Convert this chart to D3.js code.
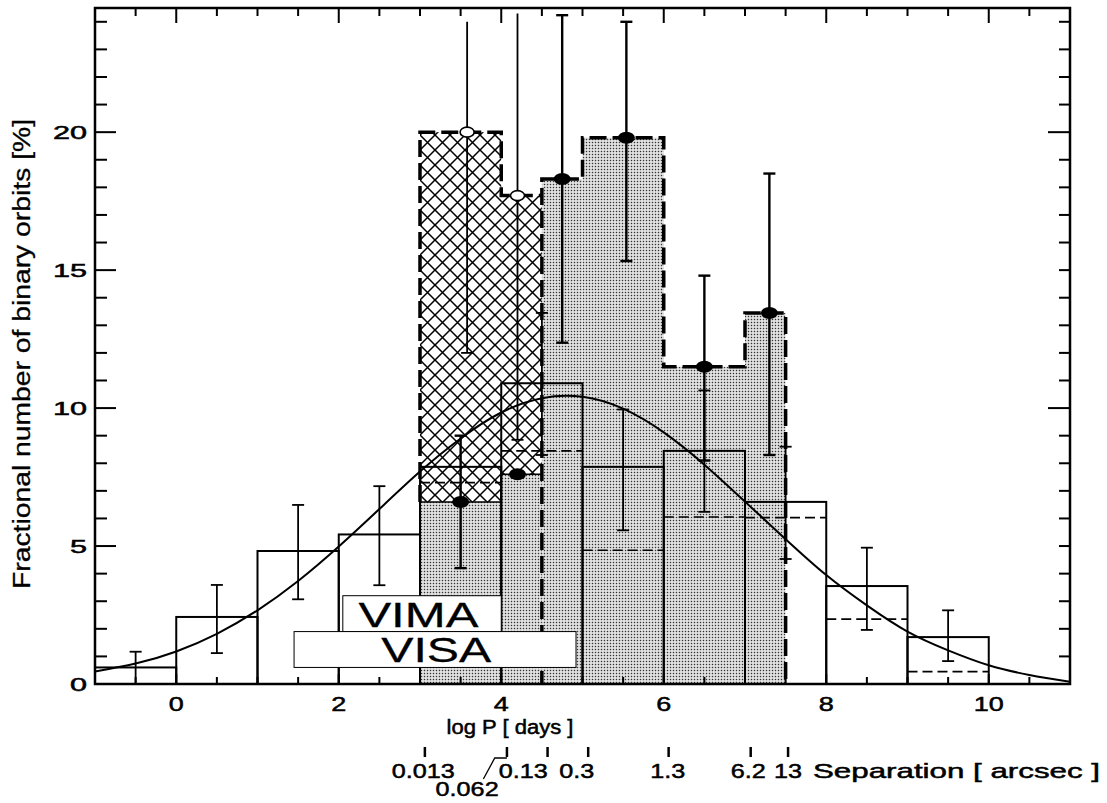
<!DOCTYPE html>
<html>
<head>
<meta charset="utf-8">
<script src="https://cdn.jsdelivr.net/npm/d3@7"></script>
<style>
  html, body { margin: 0; padding: 0; background: #fff; }
  svg { display: block; }
  text { font-family: "Liberation Sans", Arial, Helvetica, sans-serif; fill: #000; stroke: #000; stroke-width: 0.5px; }
</style>
</head>
<body>
<svg id="chart" width="1107" height="803"></svg>
<script>
// ---- Data -------------------------------------------------------------
// Full sample: unit bins in log P from -1 to 10
const openEdges = [-1, 0, 1, 2, 3, 4, 5, 6, 7, 8, 9, 10];
const openValues = [0.6, 2.43, 4.82, 5.42, 7.87, 10.9, 7.87, 8.45, 6.6, 3.55, 1.7];
const openErrCenters = [-0.5, 0.5, 1.5, 2.5, 4.5, 5.5, 6.5, 7.5, 8.5, 9.5];
const openErrLow  = [0, 1.12, 3.07, 3.58, 8.3, 5.57, 6.24, 4.53, 1.96, 0.83];
const openErrHigh = [1.17, 3.59, 6.49, 7.17, 13.45, 9.95, 10.64, 8.6, 4.94, 2.67];

// Sub-sample (dashed), bins from 3 to 10
const dashEdges = [3, 4, 5, 6, 7, 8, 9, 10];
const dashValues = [7.3, 8.45, 4.85, 6.05, 6.03, 2.35, 0.45];

// VIMA (hatched, open circles)
const vimaEdges = [3, 4, 4.5];
const vimaValues = [20, 17.7];
const vimaPointX = [3.58, 4.2];
const vimaErrLow = [12.0, 8.85];
const vimaErrHigh = [24.0, 24.3];

// VISA (stippled, filled circles)
const visaEdges = [3, 4, 4.5, 5, 6, 7, 7.5];
const visaValues = [6.6, 7.6, 18.3, 19.8, 11.5, 13.45];
const visaPointX = [3.5, 4.2, 4.75, 5.54, 6.5, 7.3];
const visaErrLow  = [4.2, null, 12.37, 15.33, 8.1, 8.3];
const visaErrHigh = [9.0, null, 24.24, 24.0, 14.8, 18.5];

// Gaussian fit to the period distribution, sampled along log P
const fitX = [-1, -0.5, 0, 0.5, 1, 1.5, 2, 2.5, 3, 3.5, 4, 4.5, 5, 5.5, 6, 6.5, 7, 7.5, 8, 8.5, 9, 9.5, 10, 10.5, 11];
const fitY = [0.45, 0.74, 1.18, 1.82, 2.67, 3.73, 4.98, 6.34, 7.70, 8.90, 9.84, 10.36, 10.41, 9.98, 9.12, 7.95, 6.61, 5.25, 3.95, 2.85, 1.90, 1.22, 0.68, 0.33, 0.08];

// Axis ticks
const xTickLabels = [0, 2, 4, 6, 8, 10];
const yTickLabels = [0, 5, 10, 15, 20];

// Angular separation scale shown under the period axis
const sepTickPos = [3.06, 4.07, 4.57, 5.07, 6.06, 7.07, 7.53];
const sepLabels = ["0.013", "0.062", "0.13", "0.3", "1.3", "6.2", "13"];
const sepLabelPos = [3.04, 3.58, 4.27, 4.93, 6.05, 7.04, 7.53];

// ---- Scales -----------------------------------------------------------
const svg = d3.select("#chart");
const x = d3.scaleLinear().domain([-1, 11]).range([95, 1070]);
const y = d3.scaleLinear().domain([0, 24.5]).range([684, 8]);

// ---- Patterns ---------------------------------------------------------
const defs = svg.append("defs");
const H = 15;
const hatch = defs.append("pattern").attr("id", "hatch")
  .attr("patternUnits", "userSpaceOnUse").attr("width", H).attr("height", H);
hatch.append("rect").attr("width", H).attr("height", H).attr("fill", "#fff");
hatch.append("path")
  .attr("d", `M-1,-1 L${H + 1},${H + 1} M-1,${H + 1} L${H + 1},-1 ` +
             `M-3,3 L3,-3 M${H - 3},${H + 3} L${H + 3},${H - 3} ` +
             `M-3,${H - 3} L3,${H + 3} M${H - 3},-3 L${H + 3},3`)
  .attr("stroke", "#000").attr("stroke-width", 1.5).attr("fill", "none");

const stip = defs.append("pattern").attr("id", "stipple")
  .attr("patternUnits", "userSpaceOnUse").attr("width", 3).attr("height", 3);
stip.append("rect").attr("width", 3).attr("height", 3).attr("fill", "#e8e8e8");
stip.append("rect").attr("x", 0.8).attr("y", 0.8).attr("width", 1.4).attr("height", 1.4).attr("fill", "#333");

const clip = defs.append("clipPath").attr("id", "plotclip");
clip.append("rect").attr("x", x(-1)).attr("y", y(24.5)).attr("width", x(11) - x(-1)).attr("height", y(0) - y(24.5));

const plot = svg.append("g").attr("clip-path", "url(#plotclip)");

// step path helper over bins
function stepPath(edges, vals) {
  let p = [];
  vals.forEach((v, i) => {
    p.push([edges[i], v]);
    p.push([edges[i + 1], v]);
  });
  return p;
}
const line = d3.line().x(d => x(d[0])).y(d => y(d[1]));

// ---- Filled regions ---------------------------------------------------
// VIMA hatched bins
plot.selectAll("rect.vima").data(vimaValues).join("rect")
  .attr("x", (d, i) => x(vimaEdges[i]))
  .attr("width", (d, i) => x(vimaEdges[i + 1]) - x(vimaEdges[i]))
  .attr("y", d => y(d)).attr("height", d => y(0) - y(d))
  .attr("fill", "url(#hatch)");

// VISA stippled bins
plot.selectAll("rect.visa").data(visaValues).join("rect")
  .attr("x", (d, i) => x(visaEdges[i]))
  .attr("width", (d, i) => x(visaEdges[i + 1]) - x(visaEdges[i]))
  .attr("y", d => y(d)).attr("height", d => y(0) - y(d))
  .attr("fill", "url(#stipple)");

// ---- Full sample histogram (thin solid outlines) ----------------------
plot.selectAll("rect.open").data(openValues).join("rect")
  .attr("x", (d, i) => x(openEdges[i]))
  .attr("width", (d, i) => x(openEdges[i + 1]) - x(openEdges[i]))
  .attr("y", d => y(d)).attr("height", d => y(0) - y(d))
  .attr("fill", "none").attr("stroke", "#000").attr("stroke-width", 2);

// Sub-sample tops (thin dashed)
plot.selectAll("line.dash").data(dashValues).join("line")
  .attr("x1", (d, i) => x(dashEdges[i])).attr("x2", (d, i) => x(dashEdges[i + 1]))
  .attr("y1", d => y(d)).attr("y2", d => y(d))
  .attr("stroke", "#000").attr("stroke-width", 1.6).attr("stroke-dasharray", "10,5");

// ---- Gaussian fit ----------------------------------------------------
plot.append("path")
  .datum(fitX.map((v, i) => [v, fitY[i]]))
  .attr("d", d3.line().x(d => x(d[0])).y(d => y(d[1])).curve(d3.curveNatural))
  .attr("fill", "none").attr("stroke", "#000").attr("stroke-width", 2);

// ---- VISA / VIMA outlines ---------------------------------------------
// thin tops of the stippled bins under the hatching
plot.append("path")
  .attr("d", line(stepPath(visaEdges.slice(0, 3), visaValues.slice(0, 2))))
  .attr("fill", "none").attr("stroke", "#000").attr("stroke-width", 1.5);

// VIMA heavy dashed outline
const vimaOutline = [[vimaEdges[0], visaValues[0]]].concat(stepPath(vimaEdges, vimaValues));
plot.append("path").attr("d", line(vimaOutline))
  .attr("fill", "none").attr("stroke", "#000").attr("stroke-width", 3.5)
  .attr("stroke-dasharray", "17,6");

// VISA heavy dashed outline from 4.5 on
const visaOutline = [[visaEdges[2], 0]].concat(stepPath(visaEdges.slice(2), visaValues.slice(2)))
  .concat([[visaEdges[visaEdges.length - 1], 0]]);
plot.append("path").attr("d", line(visaOutline))
  .attr("fill", "none").attr("stroke", "#000").attr("stroke-width", 3.5)
  .attr("stroke-dasharray", "17,6").attr("stroke-dashoffset", 4);

// ---- Error bars -------------------------------------------------------
function errBar(g, cx, lo, hi, w, cap, capLo, capHi) {
  g.append("line").attr("x1", x(cx)).attr("x2", x(cx)).attr("y1", y(lo)).attr("y2", y(hi))
    .attr("stroke", "#000").attr("stroke-width", w);
  if (capHi) g.append("line").attr("x1", x(cx) - cap).attr("x2", x(cx) + cap)
    .attr("y1", y(hi)).attr("y2", y(hi)).attr("stroke", "#000").attr("stroke-width", w);
  if (capLo) g.append("line").attr("x1", x(cx) - cap).attr("x2", x(cx) + cap)
    .attr("y1", y(lo)).attr("y2", y(lo)).attr("stroke", "#000").attr("stroke-width", w);
}
const eb = plot.append("g");
openErrCenters.forEach((c, i) => errBar(eb, c, openErrLow[i], openErrHigh[i], 1.8, 6, openErrLow[i] > 0, true));

visaPointX.forEach((c, i) => {
  if (visaErrLow[i] != null) errBar(eb, c, visaErrLow[i], visaErrHigh[i], 2.4, 6, true, true);
});
vimaPointX.forEach((c, i) => errBar(eb, c, vimaErrLow[i], vimaErrHigh[i], 1.8, 6, true, false));

// markers
plot.selectAll("ellipse.visa").data(visaValues).join("ellipse")
  .attr("cx", (d, i) => x(visaPointX[i])).attr("cy", d => y(d))
  .attr("rx", 8.5).attr("ry", 6).attr("fill", "#000");
plot.selectAll("ellipse.vima").data(vimaValues).join("ellipse")
  .attr("cx", (d, i) => x(vimaPointX[i])).attr("cy", d => y(d))
  .attr("rx", 7).attr("ry", 5).attr("fill", "#fff").attr("stroke", "#000").attr("stroke-width", 1.6);

// ---- Legend boxes -----------------------------------------------------
const leg = svg.append("g");
leg.append("rect").attr("x", x(2.05)).attr("y", y(3.2)).attr("width", x(4.0) - x(2.05)).attr("height", y(1.9) - y(3.2))
  .attr("fill", "#fff").attr("stroke", "#000").attr("stroke-width", 1);
leg.append("rect").attr("x", x(1.45)).attr("y", y(1.9)).attr("width", x(4.92) - x(1.45)).attr("height", y(0.6) - y(1.9))
  .attr("fill", "#fff").attr("stroke", "#000").attr("stroke-width", 1);
leg.append("text").attr("x", x(2.98)).attr("y", y(2.05)).attr("text-anchor", "middle")
  .attr("font-size", 35).attr("textLength", 120).attr("lengthAdjust", "spacingAndGlyphs")
  .style("stroke-width", "0.3px").text("VIMA");
leg.append("text").attr("x", x(3.2)).attr("y", y(0.8)).attr("text-anchor", "middle")
  .attr("font-size", 35).attr("textLength", 110).attr("lengthAdjust", "spacingAndGlyphs")
  .style("stroke-width", "0.3px").text("VISA");

// ---- Axes frame and ticks --------------------------------------------
const ax = svg.append("g").attr("stroke", "#000").attr("fill", "none");
ax.append("rect").attr("x", x(-1)).attr("y", y(24.5)).attr("width", x(11) - x(-1)).attr("height", y(0) - y(24.5))
  .attr("stroke-width", 2.5);

const xMinor = d3.range(-0.5, 11, 0.5);
xMinor.forEach(v => {
  const major = Math.abs(v % 2) < 1e-9;
  ax.append("line").attr("x1", x(v)).attr("x2", x(v)).attr("y1", y(0)).attr("y2", y(0) - (major ? 10 : 7)).attr("stroke-width", 2);
  ax.append("line").attr("x1", x(v)).attr("x2", x(v)).attr("y1", y(24.5)).attr("y2", y(24.5) + (major ? 15 : 8)).attr("stroke-width", 2);
});
const yMinor = d3.range(1, 24.5, 1);
yMinor.forEach(v => {
  const major = v % 5 === 0;
  ax.append("line").attr("x1", x(-1)).attr("x2", x(-1) + (major ? 21 : 12)).attr("y1", y(v)).attr("y2", y(v)).attr("stroke-width", 2);
  const rmaj = v % 10 === 0;
  ax.append("line").attr("x1", x(11)).attr("x2", x(11) - (rmaj ? 22 : 11)).attr("y1", y(v)).attr("y2", y(v)).attr("stroke-width", 2);
});

// stretched text helper
function wideText(g, px, py, str, size, sx, anchor) {
  g.append("text").attr("transform", `translate(${px},${py}) scale(${sx},1)`)
    .attr("text-anchor", anchor).attr("font-size", size).text(str);
}
const labels = svg.append("g");
xTickLabels.forEach(v => wideText(labels, x(v), 711, String(v), 20, 1.35, "middle"));
yTickLabels.forEach(v => wideText(labels, 87, y(v) + 6.5, String(v), 18, 1.7, "end"));

labels.append("text").attr("x", 510).attr("y", 734).attr("text-anchor", "middle")
  .attr("font-size", 20).attr("textLength", 127).attr("lengthAdjust", "spacingAndGlyphs").text("log P [ days ]");

labels.append("text").attr("transform", "translate(30,354) rotate(-90)").attr("text-anchor", "middle")
  .attr("font-size", 23).attr("textLength", 470).attr("lengthAdjust", "spacingAndGlyphs")
  .style("stroke-width", "0.3px")
  .text("Fractional number of binary orbits [%]");

// separation scale
sepTickPos.forEach(v => {
  labels.append("line").attr("x1", x(v)).attr("x2", x(v)).attr("y1", 747).attr("y2", 757)
    .attr("stroke", "#000").attr("stroke-width", 2.5);
});
sepLabels.forEach((s, i) => {
  const yy = i === 1 ? 796 : 778;
  wideText(labels, x(sepLabelPos[i]), yy, s, 21, 1.2, "middle");
});
// pointer from the lowered label up to its tick
labels.append("path")
  .attr("d", `M${x(3.78)},${779} L${x(3.92)},${758} L${x(sepTickPos[1])},${758}`)
  .attr("fill", "none").attr("stroke", "#000").attr("stroke-width", 1.3);
labels.append("text").attr("x", 813).attr("y", 778)
  .attr("font-size", 21).attr("textLength", 287).attr("lengthAdjust", "spacingAndGlyphs")
  .text("Separation [ arcsec ]");
</script>
</body>
</html>
